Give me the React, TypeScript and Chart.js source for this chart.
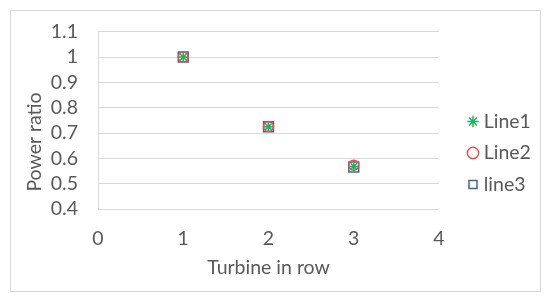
import React, { useEffect, useRef } from 'react';
import { Chart, registerables } from 'chart.js';

Chart.register(...registerables);

// ---- data ----
const xValues = [1, 2, 3];
const line1Values = [1.0, 0.725, 0.568];
const line2Values = [1.0, 0.726, 0.573];
const line3Values = [1.0, 0.725, 0.566];
const seriesNames = ['Line1', 'Line2', 'line3'];
const xTickLabels = ['0', '1', '2', '3', '4'];
const yTickLabels = ['0.4', '0.5', '0.6', '0.7', '0.8', '0.9', '1', '1.1'];
const xTitle = 'Turbine in row';
const yTitle = 'Power ratio';

// ---- style ----
const FONT = 'Lato, "Open Sans", sans-serif';
const FONT_SIZE = 19.5;
const TEXT = '#595959';
const GRID = '#d9d9d9';
const GREEN = '#1fb35f';
const RED = '#f2494c';
const BLUE = '#44629e';

const frame = {
  id: 'frame',
  beforeLayout(chart: any) {
    const lg = chart.legend;
    if (lg && !lg._patchedFit) {
      const orig = lg.fit;
      lg.fit = function () {
        orig.call(this);
        this.width = 111;
      };
      lg._patchedFit = true;
    }
  },
  afterLayout(chart: any) {
    const lg = chart.legend;
    if (!lg) return;
    const pad = lg.options.labels.padding;
    const dx = 472 - pad - lg.left;
    lg.left += dx;
    lg.right += dx;
    lg.top = 2;
    lg.bottom = 304;
    lg.height = 302;
  },
  beforeDraw(chart: any) {
    const ctx = chart.ctx;
    ctx.save();
    ctx.fillStyle = '#ffffff';
    ctx.fillRect(0, 0, chart.width, chart.height);
    ctx.strokeStyle = GRID;
    ctx.lineWidth = 1;
    ctx.strokeRect(10.5, 10.5, 530, 281);
    ctx.restore();
  },
  afterDraw(chart: any) {
    const ctx = chart.ctx;
    ctx.save();
    ctx.translate(35, 142);
    ctx.rotate(-Math.PI / 2);
    ctx.font = `${FONT_SIZE}px ${FONT}`;
    ctx.fillStyle = TEXT;
    ctx.textAlign = 'center';
    ctx.textBaseline = 'middle';
    ctx.fillText(yTitle, 0, 0);
    ctx.restore();
  },
};

export default function App() {
  const ref = useRef<HTMLCanvasElement | null>(null);

  useEffect(() => {
    if (!ref.current) return;
    const mk = (vals: number[]) => xValues.map((x, i) => ({ x, y: vals[i] }));
    const chart = new Chart(ref.current, {
      type: 'scatter',
      data: {
        datasets: [
          {
            label: seriesNames[0],
            data: mk(line1Values),
            pointStyle: 'star',
            pointRadius: 4.5,
            pointBorderWidth: 1.5,
            borderColor: GREEN,
            pointBorderColor: GREEN,
            backgroundColor: 'rgba(0,0,0,0)',
            pointBackgroundColor: 'rgba(0,0,0,0)',
          },
          {
            label: seriesNames[1],
            data: mk(line2Values),
            pointStyle: 'circle',
            pointRadius: 5,
            pointBorderWidth: 1.5,
            borderColor: RED,
            pointBorderColor: RED,
            backgroundColor: 'rgba(0,0,0,0)',
            pointBackgroundColor: 'rgba(0,0,0,0)',
          },
          {
            label: seriesNames[2],
            data: mk(line3Values),
            pointStyle: 'rect',
            pointRadius: 7,
            pointBorderWidth: 1.5,
            borderColor: BLUE,
            pointBorderColor: BLUE,
            backgroundColor: 'rgba(0,0,0,0)',
            pointBackgroundColor: 'rgba(0,0,0,0)',
          },
        ],
      },
      options: {
        animation: false,
        responsive: false,
        maintainAspectRatio: false,
        layout: { padding: { left: 0, top: 29, right: 0, bottom: 0 } },
        plugins: {
          legend: {
            display: true,
            position: 'right',
            align: 'center',
            labels: {
              usePointStyle: true,
              boxHeight: 8,
              boxWidth: 2,
              padding: 12,
              color: TEXT,
              font: { family: FONT, size: FONT_SIZE },
            },
          },
          tooltip: { enabled: false },
        },
        scales: {
          x: {
            type: 'linear',
            min: 0,
            max: 4,
            afterFit: (s: any) => {
              s.height = 93;
            },
            ticks: {
              stepSize: 1,
              autoSkip: false,
              padding: 18,
              color: TEXT,
              font: { family: FONT, size: FONT_SIZE },
              callback: (v: any) => {
                const s = String(Math.round(Number(v)));
                return xTickLabels.includes(s) ? s : '';
              },
            },
            grid: { display: false, drawTicks: false },
            border: { display: false },
            title: {
              display: true,
              text: xTitle,
              color: TEXT,
              font: { family: FONT, size: FONT_SIZE },
              padding: { top: 0, bottom: 23 },
            },
          },
          y: {
            type: 'linear',
            min: 0.4,
            max: 1.1,
            afterFit: (s: any) => {
              s.width = 98;
            },
            ticks: {
              stepSize: 0.1,
              autoSkip: false,
              padding: 20,
              color: TEXT,
              font: { family: FONT, size: FONT_SIZE },
              callback: (v: any) => {
                const s = String(Math.round(Number(v) * 10) / 10);
                return yTickLabels.includes(s) ? s : '';
              },
            },
            grid: { color: GRID, lineWidth: 1, drawTicks: false },
            border: { display: true, color: GRID, width: 1 },
          },
        },
      },
      plugins: [frame],
    });
    return () => chart.destroy();
  }, []);

  return (
    <div style={{ position: 'fixed', left: 0, top: 0, width: 550, height: 302, background: '#fff' }}>
      <canvas ref={ref} width={550} height={302} style={{ display: 'block', width: 550, height: 302 }} />
    </div>
  );
}
